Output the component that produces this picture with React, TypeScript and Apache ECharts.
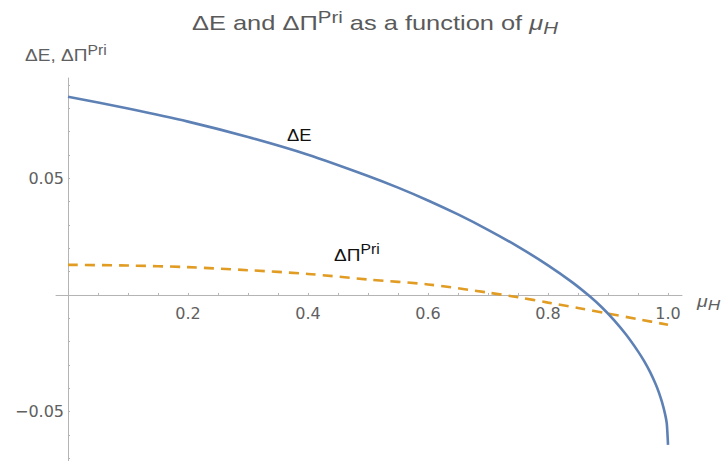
import React, { useEffect, useRef } from "react";
import * as echarts from "echarts";

// ΔE as a function of μ_H
const muE = [0, 0.1, 0.2, 0.3, 0.4, 0.5, 0.55, 0.6, 0.65, 0.7, 0.75, 0.8, 0.84, 0.87, 0.89, 0.91, 0.93, 0.95, 0.96, 0.97, 0.98, 0.985, 0.99, 0.995, 0.998, 1.0];
const deltaE = [0.085, 0.0799, 0.0743, 0.0677, 0.0601, 0.051, 0.046, 0.0405, 0.0345, 0.0279, 0.0207, 0.0127, 0.0055, -0.0007, -0.0054, -0.0108, -0.017, -0.0242, -0.0283, -0.033, -0.0386, -0.042, -0.046, -0.051, -0.0553, -0.0643];

// ΔΠ^Pri as a function of μ_H
const muPi = [0, 0.1, 0.2, 0.3, 0.4, 0.5, 0.6, 0.7, 0.75, 0.8, 0.85, 0.9, 0.95, 1.0];
const deltaPi = [0.0129, 0.0126, 0.0119, 0.0106, 0.009, 0.0066, 0.0045, 0.001, -0.001, -0.0033, -0.0056, -0.008, -0.0104, -0.0128];

// Axis ranges, ticks and labels
const X_MIN = -0.02;
const X_MAX = 1.0233;
const Y_MIN = -0.0712;
const Y_MAX = 0.093;
const xLabelValues = [0.2, 0.4, 0.6, 0.8, 1.0];
const xTickValues = [0.05, 0.1, 0.15, 0.2, 0.25, 0.3, 0.35, 0.4, 0.45, 0.5, 0.55, 0.6, 0.65, 0.7, 0.75, 0.8, 0.85, 0.9, 0.95, 1.0];
const yLabelValues = [0.05, -0.05];
const yTickValues = [0.09, 0.08, 0.07, 0.06, 0.05, 0.04, 0.03, 0.02, 0.01, -0.01, -0.02, -0.03, -0.04, -0.05, -0.06, -0.07];

const TICK_FONT = "'DejaVu Sans', 'Liberation Sans', sans-serif";
const FONT = "'Liberation Sans', Arial, sans-serif";
const GRAY = "#606060";
const TITLE_GRAY = "#5a5a5a";
const AXIS = "#b4b4b4";

// Plot frame
const WIDTH = 724;
const HEIGHT = 461;
const GRID = { left: 56, right: 42, top: 78, bottom: 0 };

export default function App() {
  const ref = useRef<HTMLDivElement>(null);

  useEffect(() => {
    if (!ref.current) return;
    const chart = echarts.init(ref.current, null, { renderer: "svg" });

    // Axes cross at the origin: shift each axis (with its labels) from the grid edge to zero.
    const gridW = WIDTH - GRID.left - GRID.right;
    const gridH = HEIGHT - GRID.top - GRID.bottom;
    const xAxisOffset = -((0 - Y_MIN) / (Y_MAX - Y_MIN)) * gridH;
    const yAxisOffset = -((0 - X_MIN) / (X_MAX - X_MIN)) * gridW;

    const txt = (size: number, color: string, lineHeight: number, verticalAlign: string, italic = false) => ({
      fontSize: size,
      fontFamily: FONT,
      fontStyle: italic ? "italic" : "normal",
      fill: color,
      lineHeight,
      verticalAlign,
    });

    chart.setOption({
      animation: false,
      backgroundColor: "#ffffff",
      grid: { ...GRID, containLabel: false, outerBoundsMode: "none" },
      xAxis: {
        type: "value",
        position: "bottom",
        offset: xAxisOffset,
        min: X_MIN,
        max: X_MAX,
        axisLine: { onZero: false, lineStyle: { color: AXIS, width: 1 } },
        axisTick: { show: true, inside: true, length: 2, customValues: xTickValues, lineStyle: { color: AXIS } },
        axisLabel: {
          customValues: xLabelValues,
          formatter: (v: number) => v.toFixed(1),
          color: GRAY,
          fontSize: 16,
          fontFamily: TICK_FONT,
          margin: 11,
        },
        splitLine: { show: false },
      },
      yAxis: {
        type: "value",
        position: "left",
        offset: yAxisOffset,
        min: Y_MIN,
        max: Y_MAX,
        axisLine: { show: true, onZero: false, lineStyle: { color: AXIS, width: 1 } },
        axisTick: { show: true, inside: true, length: 2, customValues: yTickValues, lineStyle: { color: AXIS } },
        axisLabel: {
          customValues: yLabelValues,
          formatter: (v: number) => (v < 0 ? "\u2212" + Math.abs(v).toFixed(2) : v.toFixed(2)),
          color: GRAY,
          fontSize: 16,
          fontFamily: TICK_FONT,
          margin: 4,
        },
        splitLine: { show: false },
      },
      series: [
        {
          name: "ΔE",
          type: "line",
          showSymbol: false,
          smooth: 0.2,
          data: muE.map((m, i) => [m, deltaE[i]]),
          lineStyle: { color: "#5E81B5", width: 2.6 },
          z: 3,
        },
        {
          name: "ΔΠPri",
          type: "line",
          showSymbol: false,
          smooth: 0.3,
          data: muPi.map((m, i) => [m, deltaPi[i]]),
          lineStyle: { color: "#E19C24", width: 2.6, type: [10, 7] },
          z: 2,
        },
      ],
      graphic: [
        {
          type: "text",
          x: 192,
          y: 23,
          scaleX: 1.24,
          style: {
            text: "{a|ΔE and ΔΠ}{s|Pri}{a| as a function of }{i|μ}{b|H}",
            align: "left",
            verticalAlign: "middle",
            rich: {
              a: txt(20.5, TITLE_GRAY, 28, "middle"),
              s: txt(16.5, TITLE_GRAY, 14, "top"),
              i: txt(20.5, TITLE_GRAY, 28, "middle", true),
              b: txt(16.5, TITLE_GRAY, 20, "bottom", true),
            },
          },
        },
        {
          type: "text",
          x: 25,
          y: 55,
          scaleX: 1.12,
          style: {
            text: "{a|ΔE, ΔΠ}{s|Pri}",
            align: "left",
            verticalAlign: "middle",
            rich: {
              a: txt(17, GRAY, 24, "middle"),
              s: txt(14, GRAY, 12, "top"),
            },
          },
        },
        {
          type: "text",
          x: 697,
          y: 301,
          scaleX: 1.15,
          style: {
            text: "{i|μ}{b|H}",
            align: "left",
            verticalAlign: "middle",
            rich: {
              i: txt(17, GRAY, 22, "middle", true),
              b: txt(15, GRAY, 18, "bottom", true),
            },
          },
        },
        {
          type: "text",
          x: 287,
          y: 135,
          scaleX: 1.08,
          style: { text: "ΔE", fontSize: 17, fontFamily: FONT, fill: "#111111", align: "left", verticalAlign: "middle" },
        },
        {
          type: "text",
          x: 334,
          y: 255,
          scaleX: 1.12,
          style: {
            text: "{a|ΔΠ}{s|Pri}",
            align: "left",
            verticalAlign: "middle",
            rich: {
              a: txt(17, "#111111", 26, "middle"),
              s: txt(14, "#111111", 14, "top"),
            },
          },
        },
      ],
    });

    return () => chart.dispose();
  }, []);

  return (
    <div
      ref={ref}
      style={{ position: "fixed", left: 0, top: 0, width: WIDTH, height: HEIGHT, background: "#fff" }}
    />
  );
}
